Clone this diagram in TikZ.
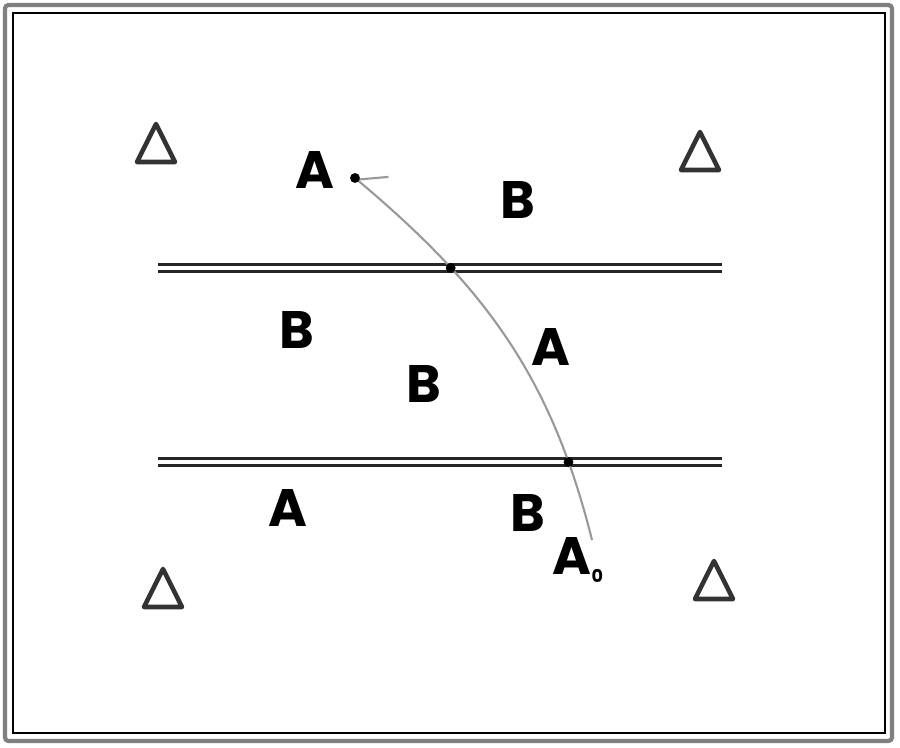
\documentclass[tikz,border=0pt]{standalone}
\usepackage{fontspec}
\setsansfont{Poppins}
\usepackage{tikz}
\usetikzlibrary{positioning,intersections}
\usetikzlibrary{arrows.meta}
\tikzstyle{arrow} = [draw=gray!80, line width=0.6pt, -{Straight Barb[harpoon,swap,length=7pt,angle=90:9pt]}]

\begin{document}
\begin{tikzpicture}
    \tikzstyle{lbl} = [font=\sffamily\bfseries\fontsize{15}{17}\selectfont, inner sep=0pt]
    \tikzstyle{tri} = [draw=black!80, line width=1.3pt, line join=round]
    \tikzstyle{border} = [double=white, double distance=1.4pt, line width=0.6pt, draw=black!85]
    \useasboundingbox (0,0) rectangle (9,7.47);

    % frame
    \draw[gray, line width=1.2pt, rounded corners=1pt] (0.05,0.06) rectangle (8.92,7.42);
    \draw[black, line width=0.6pt] (0.13,0.14) rectangle (8.85,7.34);

    % boundaries
    \draw[border, name path=upper] (1.58,4.79) -- (7.22,4.79);
    \draw[border, name path=lower] (1.58,2.85) -- (7.22,2.85);

    % labels
    \node [lbl] (atop) at (3.15,5.77) {A};
    \node [lbl] (btop) at (5.18,5.47) {B};
    \node [lbl] (bleft) at (2.97,4.17) {B};
    \node [lbl] (amid) at (5.51,4.00) {A};
    \node [lbl] (bmid) at (4.24,3.63) {B};
    \node [lbl] (abot) at (2.88,2.39) {A};
    \node [lbl] (bbot) at (5.28,2.34) {B};
    \node [lbl, anchor=west] (azero) at (5.52,1.87) {A\textsubscript{\tiny 0}};

    % triangles
    \coordinate (t1) at (1.56,6.04);
    \coordinate (t2) at (7.00,5.96);
    \coordinate (t3) at (1.63,1.59);
    \coordinate (t4) at (7.14,1.67);
    \foreach \t in {t1,t2,t3,t4}
        \draw[tri] (\t) ++(-0.19,-0.19) -- ++(0.19,0.38) -- ++(0.19,-0.38) -- cycle;

    % path
    \coordinate (start) at (5.92,2.07);
    \coordinate (stop) at (3.55,5.69);
    \draw[arrow, name path=curve] (start) to[out=104, in=-40] (stop);
    \fill [name intersections={of=curve and upper, name=up}] (up-1) circle (1.4pt);
    \fill [name intersections={of=curve and lower, name=lo}] (lo-1) circle (1.4pt);
    \fill (stop) circle (1.4pt);

\end{tikzpicture}
\end{document}
